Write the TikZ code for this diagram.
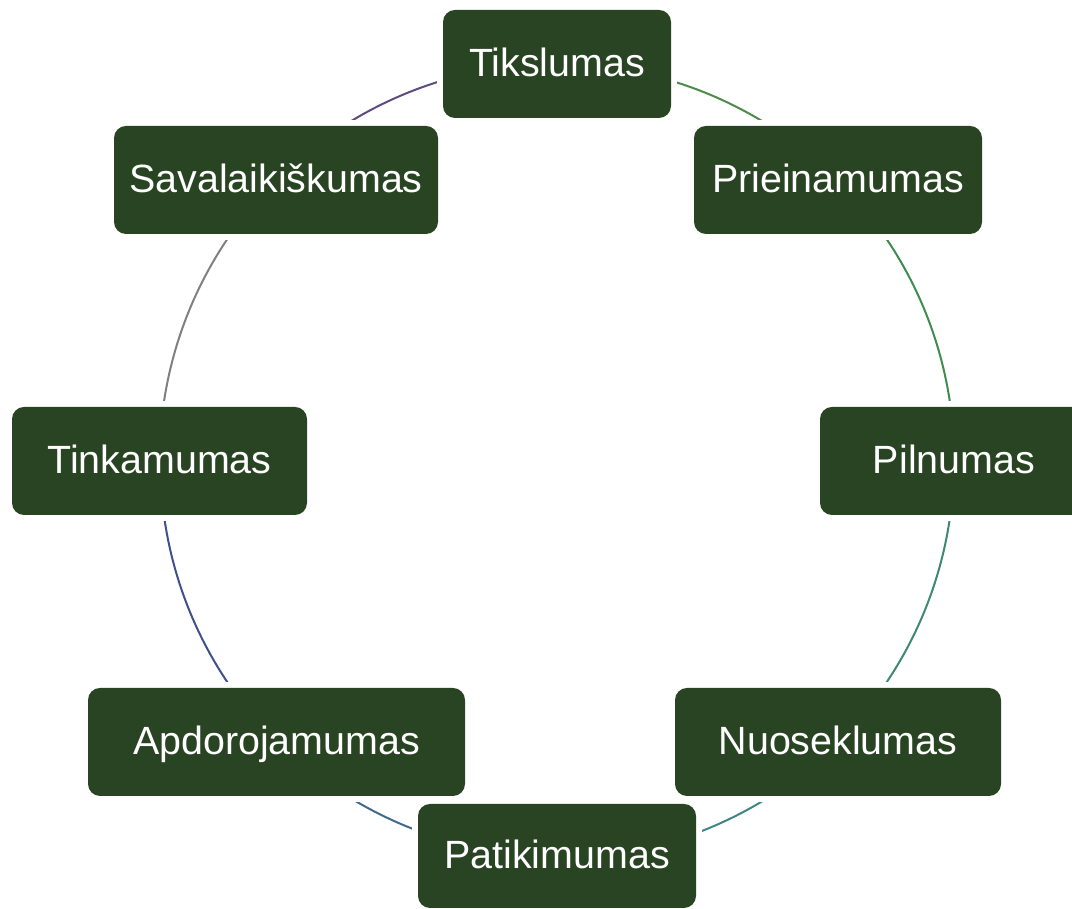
\documentclass[tikz,border=0pt]{standalone}
\usepackage{fontspec}
\setmainfont{Liberation Sans}
\definecolor{boxgreen}{HTML}{294422}
\definecolor{cA}{HTML}{4C8C48}
\definecolor{cB}{HTML}{3F8C50}
\definecolor{cC}{HTML}{3F8A6E}
\definecolor{cD}{HTML}{3F8585}
\definecolor{cE}{HTML}{3F6A8A}
\definecolor{cF}{HTML}{3F508A}
\definecolor{cG}{HTML}{808080}
\definecolor{cH}{HTML}{604A80}
\tikzset{
  box/.style={draw=none, fill=boxgreen, rounded corners=12pt, inner sep=0pt,
    minimum height=108pt, text=white, font=\fontsize{39.4}{46}\selectfont,
    text height=29pt, text depth=4pt, align=center},
  ring/.style={line width=2pt}
}
\newcommand{\hole}[1]{([shift={(-6pt,-6pt)}]#1.south west) rectangle ([shift={(6pt,6pt)}]#1.north east)}
\begin{document}
\begin{tikzpicture}[x=1pt,y=1pt]
\useasboundingbox (0,0) rectangle (1072,909);
\node[box, minimum width=228pt] (t) at (557,845) {Tikslumas};
\node[box, minimum width=288pt] (p) at (838,729) {Prieinamumas};
\node[box, minimum width=268pt] (pl) at (954,448) {Pilnumas};
\node[box, minimum width=326pt] (n) at (838,167) {Nuoseklumas};
\node[box, minimum width=278pt, minimum height=104pt] (pa) at (557,53) {Patikimumas};
\node[box, minimum width=377pt] (a) at (276.5,167) {Apdorojamumas};
\node[box, minimum width=295pt] (ti) at (159.5,448) {Tinkamumas};
\node[box, minimum width=324pt] (s) at (276,729) {Savalaikiškumas};
\begin{scope}[even odd rule]
\clip (-50,-50) rectangle (1150,960)
  \hole{t} \hole{p} \hole{pl} \hole{n} \hole{pa} \hole{a} \hole{ti} \hole{s};
\draw[ring, cA] (t.center) arc[start angle=90, end angle=45, radius=397];
\draw[ring, cB] (p.center) arc[start angle=45, end angle=0, radius=397];
\draw[ring, cC] (pl.center) arc[start angle=0, end angle=-45, radius=397];
\draw[ring, cD] (n.center) arc[start angle=-45, end angle=-90, radius=397];
\draw[ring, cE] (pa.center) arc[start angle=-90, end angle=-135, radius=397];
\draw[ring, cF] (a.center) arc[start angle=-135, end angle=-180, radius=397];
\draw[ring, cG] (ti.center) arc[start angle=180, end angle=135, radius=397];
\draw[ring, cH] (s.center) arc[start angle=135, end angle=90, radius=397];
\end{scope}
\end{tikzpicture}
\end{document}
